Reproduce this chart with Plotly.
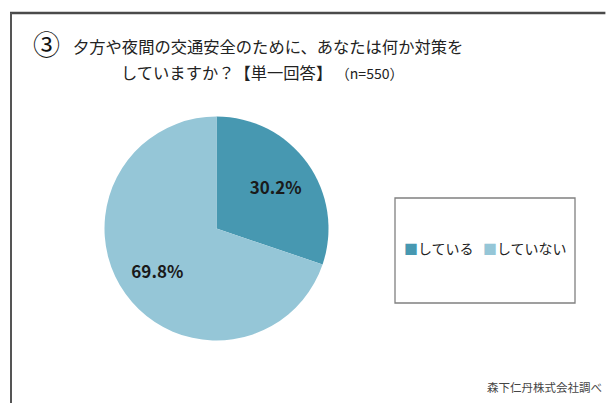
import plotly.graph_objects as go

categories = ["している", "していない"]
values = [30.2, 69.8]
colors = ["#4798B1", "#95C6D7"]

W, H = 606, 403
cx, cy, R = 216.5, 228.5, 112

font_jp = "Noto Sans CJK JP, Noto Sans"
domain = dict(x=[(cx - R) / W, (cx + R) / W], y=[(H - cy - R) / H, (H - cy + R) / H])

fig = go.Figure()
fig.add_trace(go.Pie(
    labels=categories, values=values, sort=False,
    direction="clockwise", rotation=0,
    marker=dict(colors=colors, line=dict(width=0)),
    textinfo="none", domain=domain, hoverinfo="label+percent",
))
fig.add_trace(go.Pie(
    labels=categories, values=values, sort=False,
    direction="clockwise", rotation=0, hole=0.3,
    marker=dict(colors=["rgba(0,0,0,0)"] * len(values), line=dict(width=0)),
    texttemplate="%{value:.1f}%", textposition="inside",
    insidetextorientation="horizontal",
    textfont=dict(family=font_jp, size=17, color="#1a1a1a", weight="bold"),
    domain=domain, hoverinfo="skip",
))

legend_text = "   ".join(
    f"<span style='color:{c}'>■</span>{lab}" for lab, c in zip(categories, colors)
)

fig.update_layout(
    width=W, height=H, autosize=False,
    margin=dict(l=0, r=0, t=0, b=0),
    paper_bgcolor="white", plot_bgcolor="white",
    showlegend=False,
    shapes=[
        dict(type="rect", xref="paper", yref="paper",
             x0=395 / W, x1=575 / W, y0=(H - 303) / H, y1=(H - 198) / H,
             line=dict(color="#808080", width=1.3), fillcolor="rgba(0,0,0,0)"),
        dict(type="line", xref="paper", yref="paper", layer="above",
             x0=10 / W, x1=0.999, y0=(H - 13) / H, y1=(H - 13) / H,
             line=dict(color="#4a4a4a", width=2.5)),
        dict(type="line", xref="paper", yref="paper", layer="above",
             x0=11 / W, x1=11 / W, y0=0, y1=(H - 13) / H,
             line=dict(color="#555", width=2)),
    ],
    annotations=[
        dict(text=legend_text, x=485 / W, y=(H - 248) / H, xref="paper", yref="paper",
             showarrow=False, xanchor="center", yanchor="middle",
             font=dict(family=font_jp, size=14, color="#222")),
        dict(text="③", x=46.5 / W, y=(H - 43) / H, xref="paper", yref="paper",
             showarrow=False, xanchor="center", yanchor="middle",
             font=dict(family=font_jp, size=27, color="#111")),
        dict(text="夕方や夜間の交通安全のために、あなたは何か対策を", x=71 / W, y=(H - 46) / H,
             xref="paper", yref="paper", showarrow=False, xanchor="left", yanchor="middle",
             font=dict(family=font_jp, size=16.3, color="#222")),
        dict(text="していますか？【単一回答】 <span style='font-size:14px'>（n=550）</span>",
             x=262 / W, y=(H - 72) / H,
             xref="paper", yref="paper", showarrow=False, xanchor="center", yanchor="middle",
             font=dict(family=font_jp, size=16.3, color="#222")),
        dict(text="森下仁丹株式会社調べ", x=604 / W, y=(H - 387) / H,
             xref="paper", yref="paper", showarrow=False, xanchor="right", yanchor="middle",
             font=dict(family=font_jp, size=11.5, color="#444")),
    ],
)

post = ("document.body.style.margin='0';document.body.style.padding='0';"
        "document.body.style.overflow='hidden';")

fig.write_html("out.html", config={"responsive": False, "displayModeBar": False},
               post_script=post)
